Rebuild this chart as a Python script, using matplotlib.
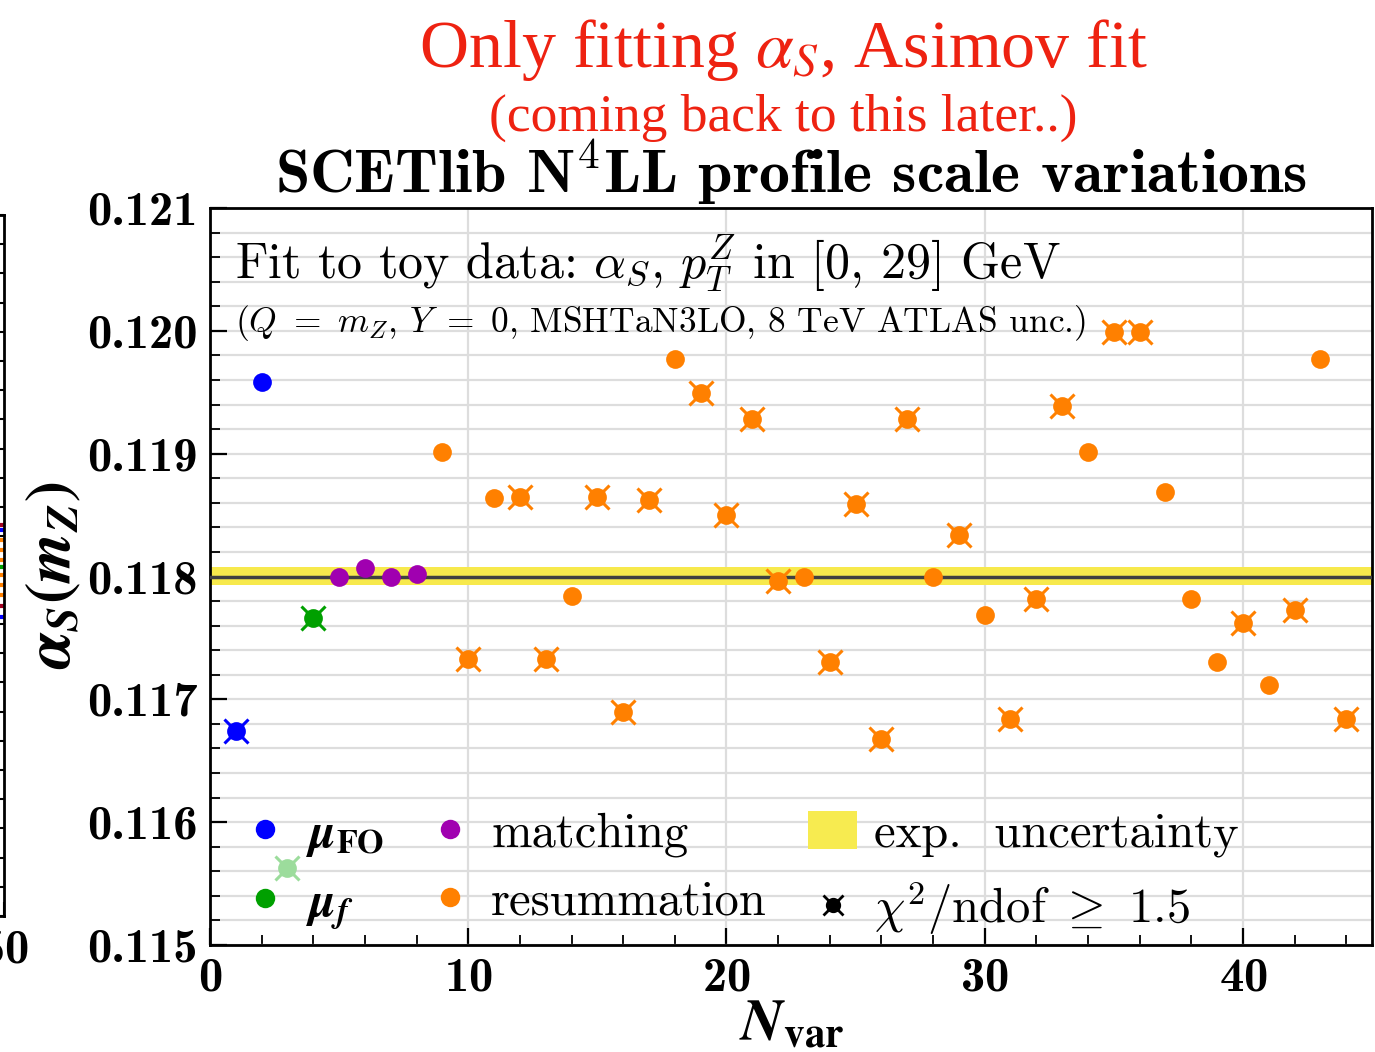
import matplotlib.pyplot as plt
from matplotlib.lines import Line2D
from matplotlib.patches import Patch
from matplotlib.ticker import MultipleLocator, FormatStrFormatter

plt.rcParams.update({
    'mathtext.fontset': 'cm',
    'font.family': 'cmr10',
    'axes.unicode_minus': False,
    'axes.formatter.use_mathtext': True,
})

# valeurs
n_var = list(range(1, 45))
alpha_s = [0.11674, 0.11958, 0.11563, 0.11766, 0.11800, 0.11807, 0.11800, 0.11802,
           0.11901, 0.11733, 0.11864, 0.11865, 0.11733, 0.11784, 0.11865, 0.11690,
           0.11862, 0.11977, 0.11949, 0.11850, 0.11928, 0.11796, 0.11800, 0.11730,
           0.11859, 0.11668, 0.11928, 0.11800, 0.11834, 0.11769, 0.11684, 0.11782,
           0.11939, 0.11901, 0.11999, 0.11999, 0.11869, 0.11782, 0.11730, 0.11762,
           0.11712, 0.11773, 0.11977, 0.11684]
category = ['FO', 'FO', 'f_faded', 'f', 'match', 'match', 'match', 'match'] + ['resum'] * 36
bad_fit = [1, 0, 1, 1, 0, 0, 0, 0,
           0, 1, 0, 1, 1, 0, 1, 1,
           1, 0, 1, 1, 1, 1, 0, 1,
           1, 1, 1, 0, 1, 0, 1, 1,
           1, 0, 1, 1, 0, 0, 0, 1,
           0, 1, 0, 1]

exp_central = 0.118
exp_lo, exp_hi = 0.11793, 0.11808

# panneau voisin (coupé à gauche)
left_vals = [0.11835, 0.11830, 0.11822, 0.11813, 0.11805, 0.11799, 0.11792,
             0.11783, 0.11775, 0.11765, 0.11756]
left_cols = ['#a00020', '#0000ff', '#ff8000', '#ff8000', '#ff8000', '#00a000',
             '#ff8000', '#ff8000', '#ff8000', '#a00020', '#0000ff']

colors = {'FO': '#0000ff', 'f': '#00a000', 'f_faded': '#9cdc9c',
          'match': '#a000b0', 'resum': '#ff8000'}

fig = plt.figure(figsize=(13.75, 10.52), dpi=100)

# --- panneau de gauche coupé ---
ax0 = fig.add_axes([-0.5, 136 / 1052, 0.5 + 4 / 1375, 701 / 1052])
ax0.hlines(left_vals, 47, 50, colors=left_cols, lw=3)
ax0.set_xlim(0, 50)
ax0.set_ylim(0.115, 0.121)
ax0.set_xticks([50])
ax0.yaxis.set_major_locator(MultipleLocator(0.001))
ax0.yaxis.set_minor_locator(MultipleLocator(0.00025))
ax0.tick_params(which='both', direction='in', left=False, right=True,
                labelleft=False, labelright=False, labelsize=35,
                labelfontfamily='cmb10', width=1.5)
ax0.tick_params(which='major', length=10, pad=10)
ax0.tick_params(which='minor', length=5)
for s in ax0.spines.values():
    s.set_linewidth(2)

# --- panneau principal ---
ax = fig.add_axes([210 / 1375, 107 / 1052, 1162 / 1375, 737 / 1052])
ax.axhspan(exp_lo, exp_hi, color='#f7e94c', lw=0, zorder=2)
ax.axhline(exp_central, color='#404040', lw=2.5, zorder=3)

for n, a, c, bad in zip(n_var, alpha_s, category, bad_fit):
    col = colors[c]
    if bad:
        ax.plot(n, a, marker='x', ms=17, mew=2.2, color=col, ls='none', zorder=4)
    ax.plot(n, a, marker='o', ms=13.5, color=col, mec='none', ls='none', zorder=5)

ax.set_xlim(0, 45)
ax.set_ylim(0.115, 0.121)
ax.xaxis.set_major_locator(MultipleLocator(10))
ax.xaxis.set_minor_locator(MultipleLocator(2))
ax.yaxis.set_major_locator(MultipleLocator(0.001))
ax.yaxis.set_minor_locator(MultipleLocator(0.0002))
ax.yaxis.set_major_formatter(FormatStrFormatter('%.3f'))
ax.tick_params(which='both', direction='in', top=False, right=False,
               labelsize=35, labelfontfamily='cmb10')
ax.tick_params(which='major', length=12, width=1.6, pad=9)
ax.tick_params(which='minor', length=7, width=1.3)
ax.yaxis.grid(True, which='both', color='#dddddd', lw=1.6)
ax.xaxis.grid(True, which='major', color='#dddddd', lw=1.6)
ax.set_axisbelow(True)
for s in ax.spines.values():
    s.set_linewidth(2)

ax.text(0.0215, 0.905, r'Fit to toy data: $\alpha_S$, $p_T^Z$ in [0, 29] GeV',
        transform=ax.transAxes, fontsize=36, va='baseline', ha='left')
ax.text(0.0215, 0.832, r'$(Q\ =\ m_Z$, $Y\ =\ 0$, MSHTaN3LO, 8 TeV ATLAS unc.)',
        transform=ax.transAxes, fontsize=25.5, va='baseline', ha='left')

# légende
handles = [
    Line2D([], [], marker='o', ls='none', color=colors['FO'], mec='none', ms=14),
    Line2D([], [], marker='o', ls='none', color=colors['f'], mec='none', ms=14),
    Line2D([], [], marker='o', ls='none', color=colors['match'], mec='none', ms=14),
    Line2D([], [], marker='o', ls='none', color=colors['resum'], mec='none', ms=14),
    Patch(facecolor='#f7eb50', edgecolor='none'),
    (Line2D([], [], marker='x', ls='none', color='black', ms=15, mew=2),
     Line2D([], [], marker='o', ls='none', color='black', mec='none', ms=11)),
]
labels = [r'$\mathbfit{\mu}_{\mathbf{FO}}$', r'$\mathbfit{\mu}_{\mathbfit{f}}$',
          'matching', 'resummation', 'exp.  uncertainty',
          r'$\chi^2/\mathrm{ndof}\ \geq\ 1.5$']
leg = ax.legend(handles, labels, ncol=3, loc='lower left',
                bbox_to_anchor=(0.026, 0.011), frameon=False, fontsize=35,
                handlelength=1.0, handleheight=0.8, handletextpad=0.35,
                columnspacing=0.85, labelspacing=0.45, borderpad=0,
                borderaxespad=0)
for t in leg.get_texts()[:2]:
    t.set_math_fontfamily('stix')

# titres
fig.text(0.5695, 0.9364, r'Only fitting $\alpha_S$, Asimov fit', color='#ee2211',
         fontsize=49, family='Liberation Serif', math_fontfamily='stix',
         ha='center', va='baseline')
fig.text(0.5695, 0.8756, '(coming back to this later..)', color='#ee2211',
         fontsize=38.5, family='Liberation Serif', ha='center', va='baseline')
fig.text(0.575, 0.8165, r'SCETlib N$^4$LL profile scale variations',
         fontsize=44.5, family='cmb10', ha='center', va='baseline')

fig.text(0.039, 0.4534, r'$\mathbfit{\alpha}_{\mathbfit{S}}\mathbf{(}\mathbfit{m}_{\mathbfit{Z}}\mathbf{)}$',
         rotation=90, fontsize=46, math_fontfamily='stix', ha='center', va='center')
fig.text(0.576, 0.0114, r'$\mathbfit{N}_{\mathbf{var}}$', fontsize=42,
         math_fontfamily='stix', ha='center', va='baseline')

fig.savefig('out.png', dpi=100, facecolor='white')
